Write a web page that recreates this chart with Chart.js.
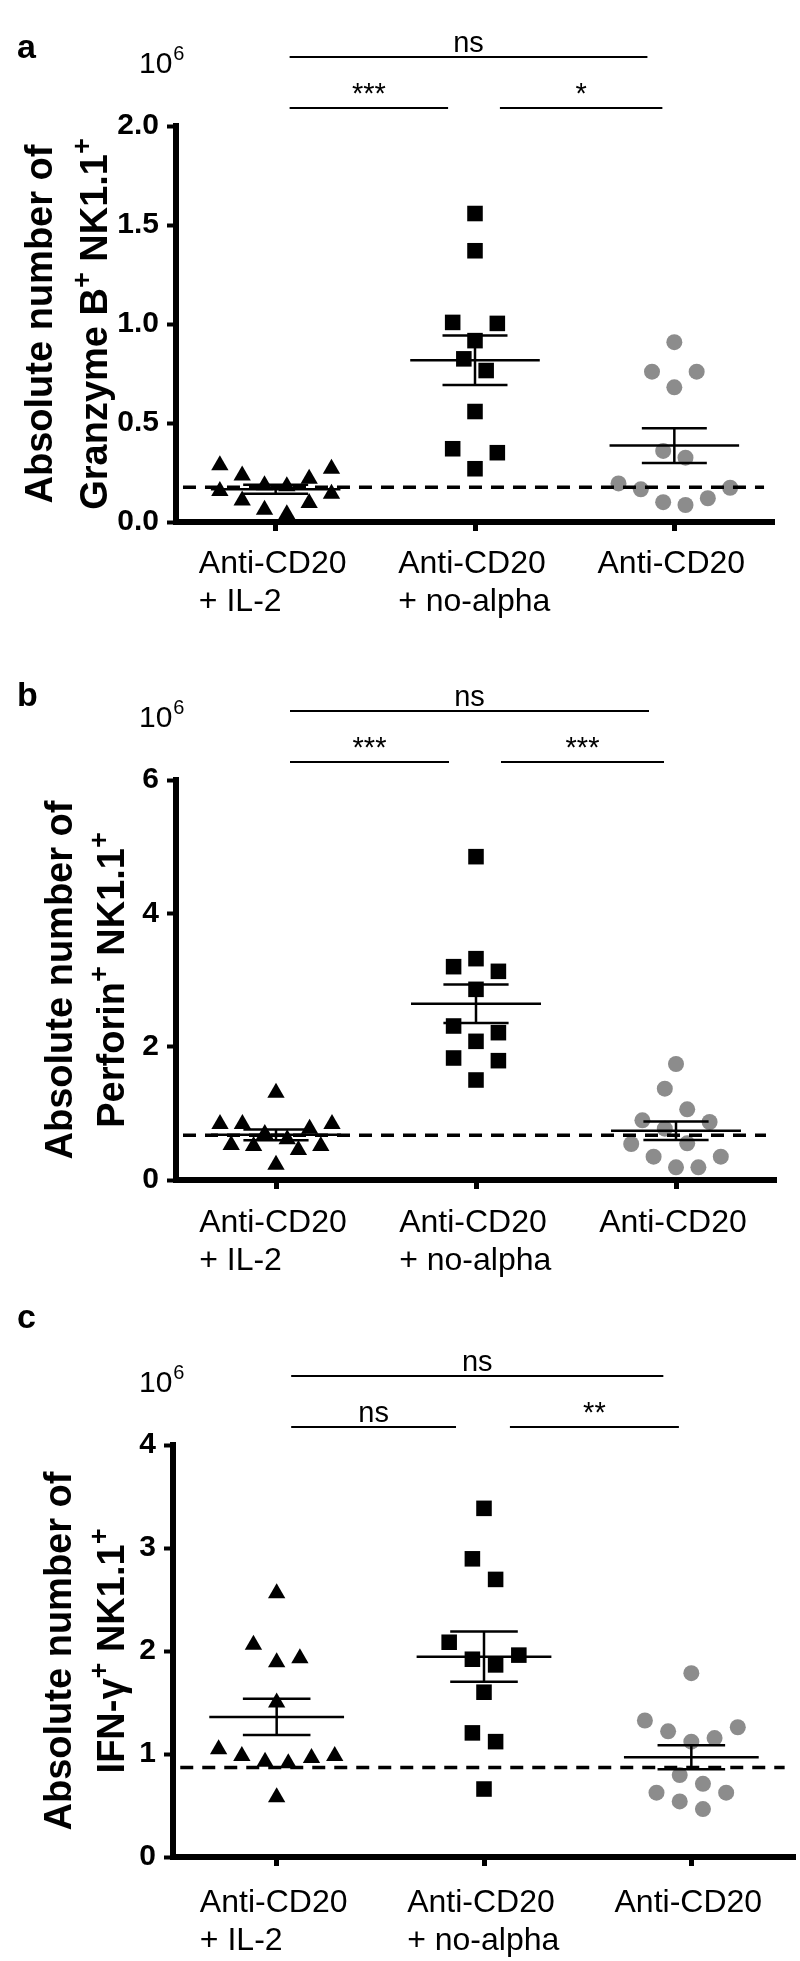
<!DOCTYPE html>
<html>
<head>
<meta charset="utf-8">
<script src="https://cdn.jsdelivr.net/npm/chart.js@4.4.0/dist/chart.umd.min.js"></script>
<style>
  html, body { margin: 0; padding: 0; background: #fff; }
  #wrap { position: relative; width: 800px; height: 1961px; }
  canvas { position: absolute; left: 0; }
</style>
</head>
<body>
<div id="wrap">
  <canvas id="panelA" width="800" height="640" style="top:0px"></canvas>
  <canvas id="panelB" width="800" height="640" style="top:650px"></canvas>
  <canvas id="panelC" width="800" height="671" style="top:1290px"></canvas>
</div>
<script>
// ---- data (values in 10^6 cells) ----
const categoryLabels = [['Anti-CD20', '+ IL-2'], ['Anti-CD20', '+ no-alpha'], ['Anti-CD20']];
const axisExponent = '6';

const granzymeIL2 = [0.286, 0.269, 0.235, 0.218, 0.185, 0.18, 0.157, 0.143, 0.109, 0.096, 0.062, 0.039];
const granzymeNoAlpha = [1.558, 1.37, 1.008, 1.003, 0.916, 0.824, 0.765, 0.558, 0.37, 0.35, 0.269];
const granzymeAlone = [0.908, 0.759, 0.759, 0.68, 0.359, 0.325, 0.195, 0.173, 0.165, 0.12, 0.1, 0.086];
const granzymeBaseline = 0.175;
const granzymeTicks = [0, 0.5, 1.0, 1.5, 2.0];
const granzymeStats = [[0, 2, 'ns'], [0, 1, '***'], [1, 2, '*']];

const perforinIL2 = [1.31, 0.84, 0.84, 0.84, 0.77, 0.69, 0.61, 0.525, 0.51, 0.51, 0.45, 0.23];
const perforinNoAlpha = [4.85, 3.32, 3.2, 3.13, 2.86, 2.31, 2.21, 2.08, 1.83, 1.79, 1.5];
const perforinAlone = [1.74, 1.37, 1.06, 0.895, 0.87, 0.77, 0.55, 0.54, 0.35, 0.35, 0.19, 0.19];
const perforinBaseline = 0.67;
const perforinTicks = [0, 2, 4, 6];
const perforinStats = [[0, 2, 'ns'], [0, 1, '***'], [1, 2, '***']];

const ifngIL2 = [2.56, 2.06, 1.93, 1.89, 1.5, 1.045, 0.98, 0.98, 0.96, 0.925, 0.91, 0.58];
const ifngNoAlpha = [3.385, 2.895, 2.695, 2.085, 1.96, 1.92, 1.865, 1.6, 1.205, 1.12, 0.66];
const ifngAlone = [1.785, 1.325, 1.26, 1.22, 1.155, 1.12, 0.795, 0.71, 0.625, 0.625, 0.54, 0.465];
const ifngBaseline = 0.87;
const ifngTicks = [0, 1, 2, 3, 4];
const ifngStats = [[0, 2, 'ns'], [0, 1, 'ns'], [1, 2, '**']];

// ---- look ----
const FONT = "'Liberation Sans', Arial, Helvetica, sans-serif";
const groupLook = [
  { pointStyle: 'triangle', radius: 10, color: '#000' },
  { pointStyle: 'rect', radius: 11, color: '#000' },
  { pointStyle: 'circle', radius: 8, color: '#8c8c8c' }
];
const SWARM_STEP = 0.112;   // horizontal step, fraction of a category
const SWARM_ROW_PX = 23.5;  // points closer than this share a row

const panels = [
  {
    id: 'panelA', letter: 'a', letterDy: -68, padTop: 126, padRight: 26, axisWidth: 176, xHeight: 118,
    titleX: [38, 93], decimals: 1, labelPad: 14,
    groups: [granzymeIL2, granzymeNoAlpha, granzymeAlone], baseline: granzymeBaseline,
    ticks: granzymeTicks, stats: granzymeStats,
    title: [[['Absolute number of']], [['Granzyme B'], ['+', true], [' NK1.1'], ['+', true]]]
  },
  {
    id: 'panelB', letter: 'b', letterDy: -74, padTop: 130, padRight: 24, axisWidth: 176, xHeight: 110,
    titleX: [58, 110], decimals: 0, labelPad: 15,
    groups: [perforinIL2, perforinNoAlpha, perforinAlone], baseline: perforinBaseline,
    ticks: perforinTicks, stats: perforinStats,
    title: [[['Absolute number of']], [['Perforin'], ['+', true], [' NK1.1'], ['+', true]]]
  },
  {
    id: 'panelC', letter: 'c', letterDy: -117, padTop: 155, padRight: 5, axisWidth: 173, xHeight: 104,
    titleX: [57, 110], decimals: 0, labelPad: 18,
    groups: [ifngIL2, ifngNoAlpha, ifngAlone], baseline: ifngBaseline,
    ticks: ifngTicks, stats: ifngStats,
    title: [[['Absolute number of']], [['IFN-\u03b3'], ['+', true], [' NK1.1'], ['+', true]]]
  }
];

function meanSem(vals) {
  const n = vals.length;
  const mean = vals.reduce((a, b) => a + b, 0) / n;
  const sd = Math.sqrt(vals.reduce((a, v) => a + (v - mean) * (v - mean), 0) / (n - 1));
  return { mean, sem: sd / Math.sqrt(n) };
}

function seg(x1, y1, x2, y2, extra) {
  return Object.assign({
    data: [{ x: x1, y: y1 }, { x: x2, y: y2 }],
    showLine: true, pointRadius: 0, borderColor: '#000', backgroundColor: '#000',
    borderWidth: 2.5, borderCapStyle: 'butt', order: 0, clip: false
  }, extra || {});
}

function buildDatasets(groups, baseline) {
  const ds = [];
  groups.forEach((vals, i) => {
    const look = groupLook[i];
    ds.push({
      data: vals.map(v => ({ x: i, y: v })),
      swarm: true, showLine: false, order: 1, clip: false,
      pointStyle: look.pointStyle, pointRadius: look.radius,
      pointBackgroundColor: look.color, pointBorderColor: look.color, pointBorderWidth: 0
    });
    const { mean, sem } = meanSem(vals);
    ds.push(seg(i - 0.325, mean, i + 0.325, mean));
    ds.push(seg(i - 0.163, mean + sem, i + 0.163, mean + sem));
    ds.push(seg(i - 0.163, mean - sem, i + 0.163, mean - sem));
    ds.push(seg(i, mean - sem, i, mean + sem));
  });
  ds.push(seg(-0.465, baseline, 2.45, baseline, { borderDash: [13, 9], borderWidth: 3.5 }));
  return ds;
}

// spread points of a group sideways in rows, like a dot plot
const swarmPlugin = {
  id: 'swarm',
  afterDatasetUpdate(chart, args) {
    const ds = chart.data.datasets[args.index];
    if (!ds.swarm) return;
    const xs = chart.scales.x;
    const step = (xs.getPixelForValue(1) - xs.getPixelForValue(0)) * SWARM_STEP;
    const pts = args.meta.data.slice().sort((p, q) => q.y - p.y);
    let i = 0;
    while (i < pts.length) {
      let j = i;
      while (j + 1 < pts.length && pts[i].y - pts[j + 1].y < SWARM_ROW_PX) j++;
      const n = j - i + 1;
      for (let k = 0; k < n; k++) {
        let slot;
        if (n % 2) slot = k === 0 ? 0 : Math.ceil(k / 2) * (k % 2 ? 1 : -1);
        else slot = (Math.floor(k / 2) + 0.5) * (k % 2 ? -1 : 1);
        pts[i + k].x += slot * step;
      }
      i = j + 1;
    }
  }
};

function drawRotatedTitle(ctx, segs, cx, cy, size) {
  const mainFont = `bold ${size}px ${FONT}`;
  const supFont = `bold ${Math.round(size * 0.7)}px ${FONT}`;
  const widths = segs.map(([t, sup]) => { ctx.font = sup ? supFont : mainFont; return ctx.measureText(t).width; });
  const total = widths.reduce((a, b) => a + b, 0);
  ctx.save();
  ctx.translate(cx, cy);
  ctx.rotate(-Math.PI / 2);
  ctx.textAlign = 'left';
  ctx.textBaseline = 'alphabetic';
  let u = -total / 2;
  const v = size * 0.36;
  segs.forEach(([t, sup], k) => {
    ctx.font = sup ? supFont : mainFont;
    ctx.fillText(t, u, sup ? v - size * 0.42 : v);
    u += widths[k];
  });
  ctx.restore();
}

function decorPlugin(p) {
  return {
    id: 'decor',
    afterDraw(chart) {
      const ctx = chart.ctx, area = chart.chartArea, xs = chart.scales.x;
      ctx.save();
      ctx.fillStyle = '#000';
      ctx.strokeStyle = '#000';
      ctx.textBaseline = 'alphabetic';
      // panel letter
      ctx.textAlign = 'left';
      ctx.font = `bold 34px ${FONT}`;
      ctx.fillText(p.letter, 17, area.top + p.letterDy);
      // axis multiplier 10^6
      ctx.font = `30px ${FONT}`;
      const base = area.top - 53;
      ctx.fillText('10', 139, base);
      const w10 = ctx.measureText('10').width;
      ctx.font = `20px ${FONT}`;
      ctx.fillText(axisExponent, 139 + w10 + 1, base - 13);
      // significance bars
      p.stats.forEach(([from, to, label]) => {
        const full = to - from > 1;
        const y = area.top - (full ? 69 : 18);
        const x1 = xs.getPixelForValue(from + (from === 0 ? 0.07 : 0.125));
        const x2 = xs.getPixelForValue(to - (from === 0 ? 0.135 : 0.06));
        ctx.lineWidth = 2;
        ctx.beginPath(); ctx.moveTo(x1, y); ctx.lineTo(x2, y); ctx.stroke();
        ctx.font = `29px ${FONT}`;
        ctx.textAlign = 'center';
        ctx.fillText(label, (x1 + x2) / 2, y - 5);
      });
      // y title
      const cy = (area.top + area.bottom) / 2;
      p.title.forEach((segs, k) => drawRotatedTitle(ctx, segs, p.titleX[k], cy, 38));
      ctx.restore();
    }
  };
}

const measureCtx = document.createElement('canvas').getContext('2d');
measureCtx.font = `32px ${FONT}`;
const labelHalf = measureCtx.measureText(categoryLabels[0][0]).width / 2;

function noScalePadding(s) {
  s.paddingLeft = 0; s.paddingRight = 0; s.paddingTop = 0; s.paddingBottom = 0;
}

panels.forEach(p => {
  new Chart(document.getElementById(p.id), {
    type: 'scatter',
    data: { datasets: buildDatasets(p.groups, p.baseline) },
    options: {
      responsive: false,
      animation: false,
      events: [],
      layout: { autoPadding: false, padding: { top: p.padTop, right: p.padRight, bottom: 0, left: 0 } },
      plugins: { legend: { display: false }, tooltip: { enabled: false } },
      scales: {
        x: {
          type: 'linear', min: -0.5, max: 2.5,
          afterBuildTicks: a => { a.ticks = categoryLabels.map((_, i) => ({ value: i })); },
          afterFit: s => { s.height = p.xHeight; noScalePadding(s); },
          grid: { drawOnChartArea: false, drawTicks: true, tickLength: 9, tickWidth: 5, tickColor: '#000' },
          border: { display: true, width: 6, color: '#000' },
          ticks: {
            callback: v => categoryLabels[v], color: '#000',
            font: { family: FONT, size: 32, lineHeight: 1.2 },
            padding: p.labelPad, align: 'start', labelOffset: -labelHalf - 3, maxRotation: 0, autoSkip: false
          }
        },
        y: {
          type: 'linear', min: 0, max: p.ticks[p.ticks.length - 1],
          afterBuildTicks: a => { a.ticks = p.ticks.map(v => ({ value: v })); },
          afterFit: s => { s.width = p.axisWidth; noScalePadding(s); },
          grid: { drawOnChartArea: false, drawTicks: true, tickLength: 9, tickWidth: 4, tickColor: '#000' },
          border: { display: true, width: 6, color: '#000' },
          ticks: {
            callback: v => v.toFixed(p.decimals), color: '#000',
            font: { family: FONT, size: 30, weight: 'bold' }, padding: 8
          }
        }
      }
    },
    plugins: [swarmPlugin, decorPlugin(p)]
  });
});
</script>
</body>
</html>
